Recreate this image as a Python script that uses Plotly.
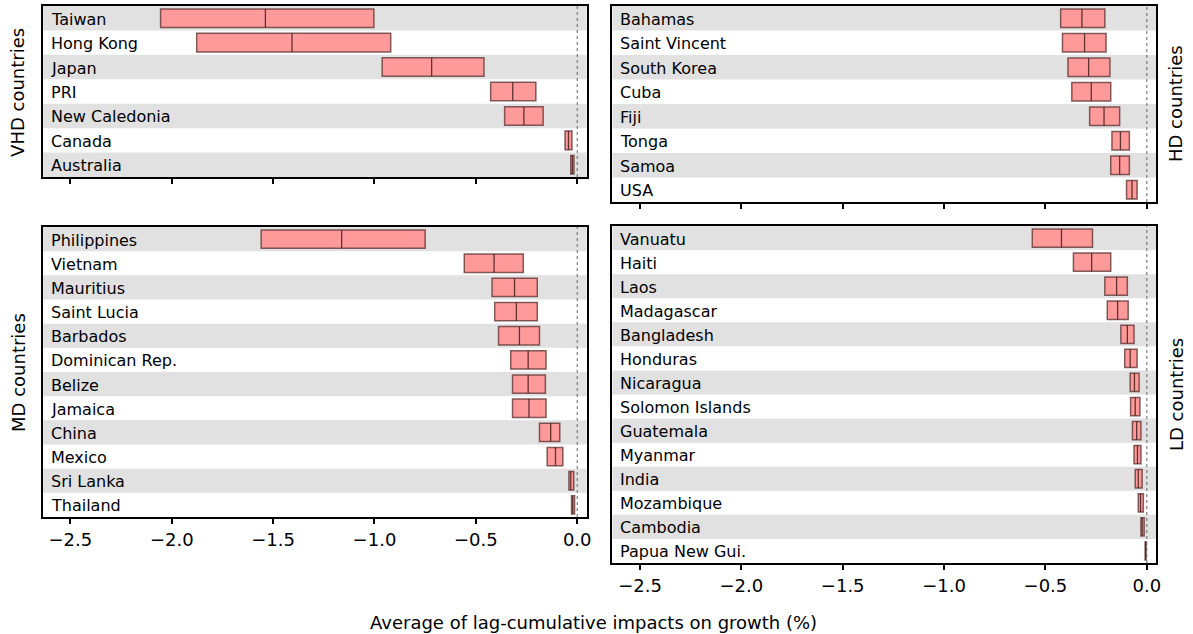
import plotly.graph_objects as go

# ---- data: lower bound, median and upper bound of the impact (%) per country ----
vhd_countries = ["Taiwan", "Hong Kong", "Japan", "PRI", "New Caledonia", "Canada", "Australia"]
vhd_low = [-2.055, -1.877, -0.962, -0.427, -0.358, -0.060, -0.032]
vhd_med = [-1.538, -1.407, -0.718, -0.318, -0.263, -0.043, -0.024]
vhd_high = [-1.003, -0.920, -0.460, -0.204, -0.168, -0.026, -0.016]

hd_countries = ["Bahamas", "Saint Vincent", "South Korea", "Cuba", "Fiji", "Tonga", "Samoa", "USA"]
hd_low = [-0.425, -0.416, -0.389, -0.370, -0.282, -0.172, -0.178, -0.100]
hd_med = [-0.320, -0.307, -0.287, -0.274, -0.211, -0.130, -0.134, -0.073]
hd_high = [-0.207, -0.201, -0.182, -0.178, -0.134, -0.086, -0.086, -0.048]

md_countries = ["Philippines", "Vietnam", "Mauritius", "Saint Lucia", "Barbados", "Dominican Rep.",
                "Belize", "Jamaica", "China", "Mexico", "Sri Lanka", "Thailand"]
md_low = [-1.559, -0.557, -0.420, -0.407, -0.388, -0.328, -0.319, -0.319, -0.186, -0.148, -0.041, -0.028]
md_med = [-1.162, -0.410, -0.309, -0.300, -0.285, -0.242, -0.242, -0.238, -0.131, -0.107, -0.032, -0.022]
md_high = [-0.750, -0.266, -0.197, -0.197, -0.186, -0.154, -0.157, -0.154, -0.086, -0.071, -0.017, -0.013]

ld_countries = ["Vanuatu", "Haiti", "Laos", "Madagascar", "Bangladesh", "Honduras", "Nicaragua",
                "Solomon Islands", "Guatemala", "Myanmar", "India", "Mozambique", "Cambodia",
                "Papua New Gui."]
ld_low = [-0.565, -0.362, -0.207, -0.195, -0.128, -0.109, -0.082, -0.080, -0.071, -0.063, -0.057,
          -0.042, -0.029, -0.008]
ld_med = [-0.421, -0.272, -0.149, -0.144, -0.096, -0.082, -0.061, -0.057, -0.050, -0.046, -0.042,
          -0.031, -0.023, -0.006]
ld_high = [-0.268, -0.178, -0.096, -0.092, -0.063, -0.048, -0.038, -0.034, -0.029, -0.029, -0.023,
           -0.017, -0.013, -0.004]

tick_vals = [-2.5, -2.0, -1.5, -1.0, -0.5, 0.0]
tick_text = ["\u22122.5", "\u22122.0", "\u22121.5", "\u22121.0", "\u22120.5", "0.0"]

W, H = 1193, 634
FONT = "DejaVu Sans"
BAR_H = 0.76

# panel boxes in pixels: (left, top, right, bottom)
panels = [
    ("", vhd_countries, vhd_low, vhd_med, vhd_high, (43, 6, 589, 177), False),
    ("2", hd_countries, hd_low, hd_med, hd_high, (615, 6, 1161, 202), False),
    ("3", md_countries, md_low, md_med, md_high, (43, 227, 589, 517), True),
    ("4", ld_countries, ld_low, ld_med, ld_high, (615, 226, 1161, 563), True),
]

fig = go.Figure()
shapes = []
annotations = []

for suffix, names, low, med, high, box, show_labels in panels:
    xa, ya = "x" + suffix, "y" + suffix
    n = len(names)
    rows = list(range(n))

    # alternating row bands
    for i in rows:
        if i % 2 == 0:
            shapes.append(dict(type="rect", xref=xa + " domain", yref=ya, x0=0, x1=1,
                               y0=i - 0.5, y1=i + 0.5, fillcolor="#e1e1e1",
                               line=dict(width=0), layer="below"))
    # dotted zero line
    shapes.append(dict(type="line", xref=xa, yref=ya + " domain", x0=0, x1=0, y0=0, y1=1,
                       line=dict(color="#666666", width=1, dash="dot"), layer="above"))

    # range bars
    fig.add_trace(go.Bar(
        y=rows, base=low, x=[h - l for l, h in zip(low, high)], orientation="h",
        width=BAR_H, xaxis=xa, yaxis=ya, showlegend=False,
        marker=dict(color="#ff9a9a", line=dict(color="rgba(90,45,45,0.75)", width=1.5)),
        hoverinfo="skip",
    ))

    # median ticks
    mx, my = [], []
    for i, m in zip(rows, med):
        mx += [m, m, None]
        my += [i - BAR_H / 2, i + BAR_H / 2, None]
    fig.add_trace(go.Scatter(x=mx, y=my, mode="lines", xaxis=xa, yaxis=ya, showlegend=False,
                             line=dict(color="rgba(70,30,30,0.85)", width=1.3), hoverinfo="skip"))

    # country names inside the panel
    for i, name in zip(rows, names):
        annotations.append(dict(text=name, xref=xa + " domain", yref=ya, x=0.011, y=i,
                                xanchor="left", yanchor="middle", showarrow=False, yshift=-1,
                                font=dict(family=FONT, size=16, color="black")))

    l, t, r, b = box
    axis_x = dict(domain=[l / W, r / W], range=[-2.636, 0.046], tickmode="array",
                  tickvals=tick_vals, ticktext=tick_text, showticklabels=show_labels,
                  ticks="outside", ticklen=5, tickwidth=1.5, tickcolor="black",
                  showgrid=False, zeroline=False, showline=True, mirror=True,
                  linecolor="black", linewidth=2, anchor=ya,
                  tickfont=dict(family=FONT, size=18, color="black"))
    axis_y = dict(domain=[1 - b / H, 1 - t / H], range=[n - 0.5, -0.5], showticklabels=False,
                  ticks="", showgrid=False, zeroline=False, showline=True, mirror=True,
                  linecolor="black", linewidth=2, anchor=xa)
    fig.update_layout({"xaxis" + suffix: axis_x, "yaxis" + suffix: axis_y})

# group titles and the shared x-axis title
for text, x, y in [("VHD countries", 18, 92), ("MD countries", 18, 372),
                   ("HD countries", 1181, 104), ("LD countries", 1181, 395)]:
    annotations.append(dict(text=text, xref="paper", yref="paper", x=x / W, y=1 - y / H,
                            xanchor="center", yanchor="middle", textangle=-90, showarrow=False,
                            font=dict(family=FONT, size=18, color="black")))
annotations.append(dict(text="Average of lag-cumulative impacts on growth (%)", xref="paper",
                        yref="paper", x=596 / W, y=1 - 622 / H, xanchor="center",
                        yanchor="middle", showarrow=False,
                        font=dict(family=FONT, size=18, color="black")))

fig.update_layout(width=W, height=H, margin=dict(l=0, r=0, t=0, b=0),
                  plot_bgcolor="white", paper_bgcolor="white", shapes=shapes,
                  annotations=annotations, barmode="overlay",
                  font=dict(family=FONT, color="black"))

fig.write_html("out.html")
